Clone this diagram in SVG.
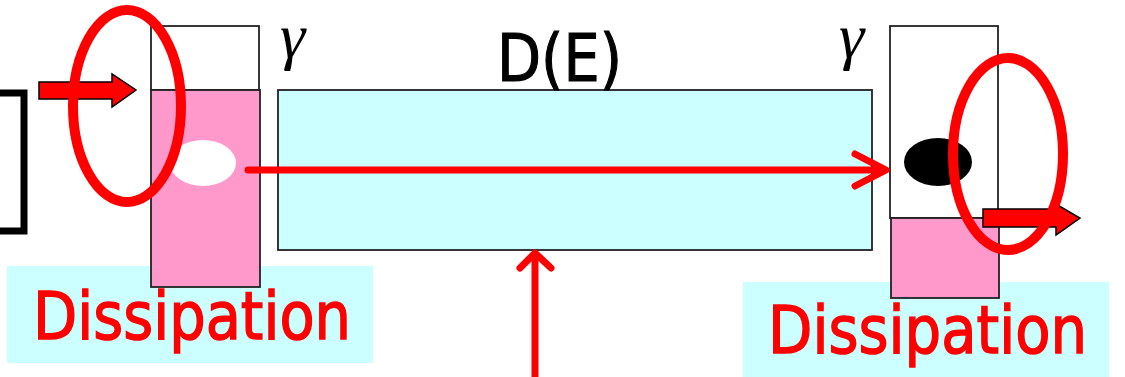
<svg xmlns="http://www.w3.org/2000/svg" width="1125" height="377" viewBox="0 0 1125 377">
  <style>
    .box { stroke: #222; stroke-width: 1.8; }
    .pink { fill: #FF99CC; }
    .white { fill: #FFFFFF; }
    .cyan { fill: #CCFFFF; }
    .label { font-family: "DejaVu Sans", "Noto Sans", sans-serif; }
    .red-text { fill: #FF0000; stroke: #FF0000; stroke-width: 1.5; }
    .dark-text { fill: #000; stroke: #000; stroke-width: 1.2; }
    .gamma { font-family: "Liberation Serif", "DejaVu Serif", serif; font-style: italic; fill: #000; }
    .wire { fill: none; stroke: #FF0000; stroke-width: 7; stroke-linecap: round; stroke-linejoin: round; }
    .block-arrow { fill: #FF0000; stroke: #000; stroke-width: 1.5; stroke-linejoin: miter; }
    .ring { fill: none; stroke: #FF0000; stroke-width: 10; }
  </style>

  <rect width="1125" height="377" fill="#FFFFFF"/>

  <!-- dissipation labels (behind the reservoirs) -->
  <g id="dissipation-left">
    <rect class="cyan" x="7" y="266" width="366" height="97"/>
    <text class="label red-text" x="33" y="339" font-size="66" textLength="318" lengthAdjust="spacingAndGlyphs">Dissipation</text>
  </g>
  <g id="dissipation-right">
    <rect class="cyan" x="743" y="282" width="366" height="95"/>
    <text class="label red-text" x="768" y="353" font-size="66" textLength="319" lengthAdjust="spacingAndGlyphs">Dissipation</text>
  </g>

  <!-- bracket at the left edge -->
  <g id="bracket">
    <path d="M0,93 H24 V231 H0" fill="none" stroke="#000" stroke-width="7"/>
  </g>

  <!-- left reservoir -->
  <g id="left-lead">
    <rect class="box white" x="151" y="26" width="108" height="64"/>
    <rect class="box pink" x="151" y="90" width="109" height="197"/>
    <ellipse cx="203" cy="163" rx="33" ry="23" fill="#FFFFFF"/>
    <text class="gamma" x="280" y="57" font-size="64">γ</text>
  </g>

  <!-- central conductor -->
  <g id="conductor">
    <rect class="box cyan" x="278" y="90" width="594" height="160"/>
    <text class="label dark-text" x="497" y="81" font-size="66" textLength="125" lengthAdjust="spacingAndGlyphs">D(E)</text>
  </g>

  <!-- right reservoir -->
  <g id="right-lead">
    <rect class="box white" x="890" y="26" width="108" height="192"/>
    <rect class="box pink" x="891" y="218" width="108" height="80"/>
    <ellipse cx="938" cy="162" rx="34" ry="24" fill="#000"/>
    <text class="gamma" x="839" y="57" font-size="64">γ</text>
  </g>

  <!-- connectors -->
  <g id="connectors">
    <path class="wire" d="M248,170 H884"/>
    <path class="wire" d="M855,154 L886,170 L855,186"/>
    <path class="wire" d="M535,377 V254"/>
    <path class="wire" d="M520,268 L535,253 L551,268"/>
    <polygon class="block-arrow" points="39,82 112,82 112,74 136,90 112,107 112,99 39,99"/>
    <polygon class="block-arrow" points="983,209 1056,209 1056,204 1080,218 1056,235 1056,227 983,227"/>
  </g>

  <!-- highlight rings -->
  <g id="rings">
    <ellipse class="ring" cx="127" cy="106" rx="54" ry="96"/>
    <ellipse class="ring" cx="1008" cy="154" rx="55" ry="96"/>
  </g>
</svg>
